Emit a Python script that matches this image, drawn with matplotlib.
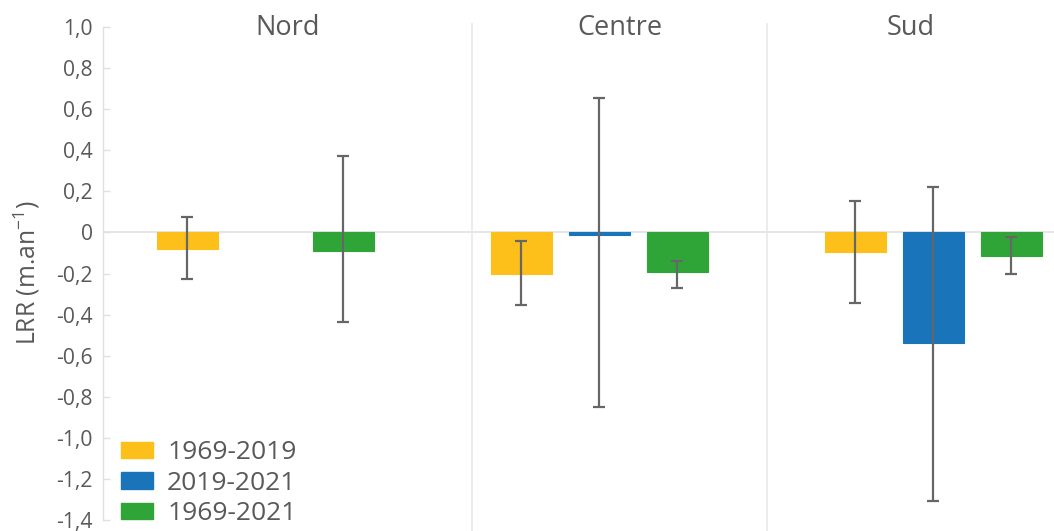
import numpy as np
import matplotlib
matplotlib.use("Agg")
import matplotlib.pyplot as plt
from matplotlib.patches import Patch
from matplotlib.transforms import blended_transform_factory

plt.rcParams['font.family'] = ['Open Sans', 'DejaVu Sans']
plt.rcParams['mathtext.fontset'] = 'custom'
plt.rcParams['mathtext.rm'] = 'Open Sans'
plt.rcParams['mathtext.it'] = 'Open Sans'

# ---- data ----
regions = ["Nord", "Centre", "Sud"]
series = ["1969-2019", "2019-2021", "1969-2021"]
values = {
    "1969-2019": [-0.08, -0.20, -0.097],
    "2019-2021": [np.nan, -0.012, -0.54],
    "1969-2021": [-0.09, -0.192, -0.114],
}
err_low = {   # lower end of error bar
    "1969-2019": [-0.228, -0.353, -0.341],
    "2019-2021": [np.nan, -0.85, -1.304],
    "1969-2021": [-0.437, -0.268, -0.203],
}
err_high = {  # upper end of error bar
    "1969-2019": [0.074, -0.040, 0.152],
    "2019-2021": [np.nan, 0.656, 0.220],
    "1969-2021": [0.373, -0.139, -0.020],
}
yticks = [1.0, 0.8, 0.6, 0.4, 0.2, 0.0, -0.2, -0.4, -0.6, -0.8, -1.0, -1.2, -1.4]
ytick_labels = ["1,0", "0,8", "0,6", "0,4", "0,2", "0", "-0,2", "-0,4", "-0,6",
                "-0,8", "-1,0", "-1,2", "-1,4"]
colors = ["#FDBF1A", "#1A74BA", "#2FA538"]
text_color = "#595959"

# ---- layout ----
W, H = 1054, 531
fig = plt.figure(figsize=(W / 100, H / 100), dpi=100)
ax_left, ax_right, ax_top, ax_bot = 102.7, 1054, 26.9, 520.3
ax = fig.add_axes([ax_left / W, (H - ax_bot) / H, (ax_right - ax_left) / W, (ax_bot - ax_top) / H])

group_gap = 4.282
bar_w = 0.79
group_x = np.arange(len(regions)) * group_gap
offsets = [-1, 0, 1]

for j, s in enumerate(series):
    v = np.array(values[s], dtype=float)
    lo = np.array(err_low[s], dtype=float)
    hi = np.array(err_high[s], dtype=float)
    x = group_x + offsets[j]
    mask = ~np.isnan(v)
    ax.bar(x[mask], v[mask], width=bar_w, color=colors[j], zorder=2,
           edgecolor=colors[j], linewidth=0.8)
    ax.errorbar(x[mask], v[mask], yerr=[v[mask] - lo[mask], hi[mask] - v[mask]],
                fmt='none', ecolor="#666666", elinewidth=1.6, capsize=4.6,
                capthick=1.6, zorder=3)

ax.axhline(0, color="#e6e6e6", lw=1.4, zorder=1)

x0 = -2.085
ax.set_xlim(x0, x0 + (ax_right - ax_left) / 78.0)
ax.set_ylim(-1.4, 1.0)
ax.set_yticks(yticks)
ax.set_yticklabels(ytick_labels)
ax.set_xticks([])
ax.tick_params(axis='y', direction='in', length=5, width=1, color="#e0e0e0",
               labelsize=15.2, labelcolor=text_color, pad=7)
for sp in ["top", "right", "bottom"]:
    ax.spines[sp].set_visible(False)
ax.spines["left"].set_color("#e0e0e0")
ax.spines["left"].set_linewidth(1)

# separators between regions
for sep in [2.65, 6.432]:
    ax.plot([sep, sep], [1.012, -1.46], color="#ebebeb", lw=1.3, clip_on=False, zorder=0)

# region titles
bounds = [x0, 2.65, 6.432, x0 + (ax_right - ax_left) / 78.0]
trans = blended_transform_factory(ax.transData, fig.transFigure)
for i, r in enumerate(regions):
    ax.text((bounds[i] + bounds[i + 1]) / 2, 1 - 35 / H, r, transform=trans,
            ha='center', va='baseline', fontsize=19.5, color=text_color)

fig.text(27 / W, 1 - 273 / H, "LRR (m.an$^{-1}$)", rotation=90, ha='center',
         va='center', fontsize=17.8, color=text_color)

handles = [Patch(facecolor=c, edgecolor=c) for c in colors]
leg = ax.legend(handles, series, loc='lower left', bbox_to_anchor=(0.0, -0.049),
                frameon=False, fontsize=19, handlelength=1.21, handleheight=0.57,
                handletextpad=0.53, labelspacing=0.2, borderaxespad=0.3)
for t in leg.get_texts():
    t.set_color(text_color)

fig.savefig("out.png", dpi=100)
